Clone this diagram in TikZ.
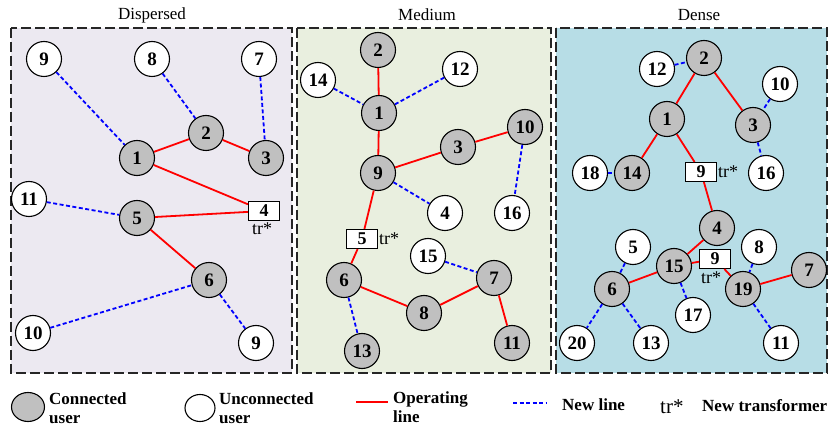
\documentclass[tikz,border=0pt]{standalone}
\usepackage{fontspec}
\setmainfont{Liberation Serif}
\usetikzlibrary{shapes.geometric}
\definecolor{cgray}{RGB}{192,192,192}
\definecolor{panA}{RGB}{236,233,241}
\definecolor{panB}{RGB}{233,239,223}
\definecolor{panC}{RGB}{183,221,230}
\definecolor{oline}{RGB}{255,0,0}
\definecolor{nline}{RGB}{0,0,255}
\begin{document}
\begin{tikzpicture}[x=1pt,y=-1pt,
  usr/.style={circle, draw=black, line width=1.1pt, minimum size=35pt, inner sep=0pt,
    font=\bfseries\fontsize{19}{19}\selectfont},
  con/.style={usr, fill=cgray},
  unc/.style={usr, fill=white},
  trbox/.style={rectangle, draw=black, line width=1.1pt, fill=white, minimum width=31pt, minimum height=19pt, inner sep=0pt,
    font=\bfseries\fontsize{18}{18}\selectfont},
  trlab/.style={inner sep=0pt, font=\fontsize{18}{18}\selectfont},
  op/.style={draw=oline, line width=1.8pt},
  nw/.style={draw=nline, line width=1.8pt, dash pattern=on 4pt off 2.5pt},
  panel/.style={draw=black!85, line width=1.4pt, dash pattern=on 10pt off 4pt},
  ttl/.style={font=\fontsize{17}{17}\selectfont, inner sep=0pt},
  leg/.style={font=\bfseries\fontsize{17}{19}\selectfont, align=left, inner sep=0pt}
]
\useasboundingbox (0,0) rectangle (830,430);

% panels
\path[panel, fill=panA] (11,28) rectangle (292,373);
\path[panel, fill=panB] (297,28) rectangle (551,373);
\path[panel, fill=panC] (556,28) rectangle (827,373);
\node[ttl] (t1) at (152,15) {Dispersed};
\node[ttl] (t2) at (427,15) {Medium};
\node[ttl] (t3) at (699,15) {Dense};

% ---------- Dispersed ----------
\node[unc] (a9) at (44,59) {9};
\node[unc] (a8) at (152,59) {8};
\node[unc] (a7) at (259,59) {7};
\node[con] (a2) at (206,133) {2};
\node[con] (a1) at (137,158) {1};
\node[con] (a3) at (266,158) {3};
\node[unc] (a11) at (29,199) {11};
\node[con] (a5) at (137,218) {5};
\node[trbox] (a4) at (264,211) {4};
\node[trlab] (a4l) at (262,229) {tr*};
\node[con] (a6) at (209,280) {6};
\node[unc] (a10) at (33,333) {10};
\node[unc] (a9b) at (256,343) {9};
\draw[op] (a1) -- (a2);
\draw[op] (a2) -- (a3);
\draw[op] (a1) -- (a4);
\draw[op] (a5) -- (a4);
\draw[op] (a5) -- (a6);
\draw[nw] (a9) -- (a1);
\draw[nw] (a8) -- (a2);
\draw[nw] (a7) -- (a3);
\draw[nw] (a11) -- (a5);
\draw[nw] (a10) -- (a6);
\draw[nw] (a6) -- (a9b);

% ---------- Medium ----------
\node[con] (b2) at (378,50) {2};
\node[unc] (b14) at (318,80) {14};
\node[unc] (b12) at (460,69) {12};
\node[con] (b1) at (379,113) {1};
\node[con] (b10) at (525,127) {10};
\node[con] (b3) at (458,147) {3};
\node[con] (b9) at (378,173) {9};
\node[unc] (b4) at (445,213) {4};
\node[unc] (b16) at (512,213) {16};
\node[trbox] (b5) at (362,239) {5};
\node[trlab, anchor=west] (b5l) at (379,239) {tr*};
\node[unc] (b15) at (428,256) {15};
\node[con] (b7) at (494,278) {7};
\node[con] (b6) at (344,280) {6};
\node[con] (b8) at (424,313) {8};
\node[con] (b11) at (512,343) {11};
\node[con] (b13) at (362,351) {13};
\draw[op] (b2) -- (b1);
\draw[op] (b1) -- (b9);
\draw[op] (b9) -- (b3);
\draw[op] (b3) -- (b10);
\draw[op] (b9) -- (b5);
\draw[op] (b5) -- (b6);
\draw[op] (b6) -- (b8);
\draw[op] (b8) -- (b7);
\draw[op] (b7) -- (b11);
\draw[nw] (b14) -- (b1);
\draw[nw] (b12) -- (b1);
\draw[nw] (b9) -- (b4);
\draw[nw] (b10) -- (b16);
\draw[nw] (b15) -- (b7);
\draw[nw] (b6) -- (b13);

% ---------- Dense ----------
\node[con] (c2) at (704,58) {2};
\node[unc] (c12) at (657,69) {12};
\node[unc] (c10) at (780,84) {10};
\node[con] (c1) at (667,119) {1};
\node[con] (c3) at (753,125) {3};
\node[unc] (c18) at (590,173) {18};
\node[con] (c14) at (632,173) {14};
\node[trbox] (c9) at (701,172) {9};
\node[trlab, anchor=west] (c9l) at (718,172) {tr*};
\node[unc] (c16) at (766,173) {16};
\node[con] (c4) at (717,228) {4};
\node[unc] (c5) at (633,247) {5};
\node[unc] (c8) at (759,247) {8};
\node[con] (c15) at (674,266) {15};
\node[trbox] (c9b) at (715,259) {9};
\node[trlab] (c9bl) at (711,278) {tr*};
\node[con] (c7) at (809,270) {7};
\node[con] (c6) at (612,289) {6};
\node[con] (c19) at (743,289) {19};
\node[unc] (c17) at (693,315) {17};
\node[unc] (c20) at (577,343) {20};
\node[unc] (c13) at (651,343) {13};
\node[unc] (c11) at (781,343) {11};
\draw[op] (c2) -- (c1);
\draw[op] (c2) -- (c3);
\draw[op] (c1) -- (c14);
\draw[op] (c1) -- (c9);
\draw[op] (c9) -- (c4);
\draw[op] (c4) -- (c15);
\draw[op] (c15) -- (c9b);
\draw[op] (c9b) -- (c19);
\draw[op] (c19) -- (c7);
\draw[op] (c15) -- (c6);
\draw[nw] (c12) -- (c2);
\draw[nw] (c10) -- (c3);
\draw[nw] (c3) -- (c16);
\draw[nw] (c18) -- (c14);
\draw[nw] (c5) -- (c6);
\draw[nw] (c6) -- (c20);
\draw[nw] (c6) -- (c13);
\draw[nw] (c15) -- (c17);
\draw[nw] (c8) -- (c19);
\draw[nw] (c19) -- (c11);

% ---------- Legend ----------
\node[ellipse, draw=black, line width=1.1pt, fill=cgray, minimum width=33pt, minimum height=29pt, inner sep=0pt] (lc) at (28,407) {};
\node[leg, anchor=west] (lct) at (49,408) {Connected\\user};
\node[ellipse, draw=black, line width=1.1pt, fill=white, minimum width=30pt, minimum height=27pt, inner sep=0pt] (lu) at (200,408) {};
\node[leg, anchor=west] (lut) at (219,408) {Unconnected\\user};
\coordinate (lo1) at (356,402);
\coordinate (lo2) at (388,402);
\draw[op] (lo1) -- (lo2);
\node[leg, anchor=west] (lot) at (393,407) {Operating\\line};
\coordinate (ln1) at (513,403);
\coordinate (ln2) at (546,403);
\draw[nw] (ln1) -- (ln2);
\node[leg, anchor=west] (lnt) at (562,405) {New line};
\node[anchor=west, inner sep=0pt, font=\fontsize{21}{21}\selectfont] (ltr) at (660,407) {tr*};
\node[leg, anchor=west] (ltrt) at (702,406) {New transformer};
\end{tikzpicture}
\end{document}
